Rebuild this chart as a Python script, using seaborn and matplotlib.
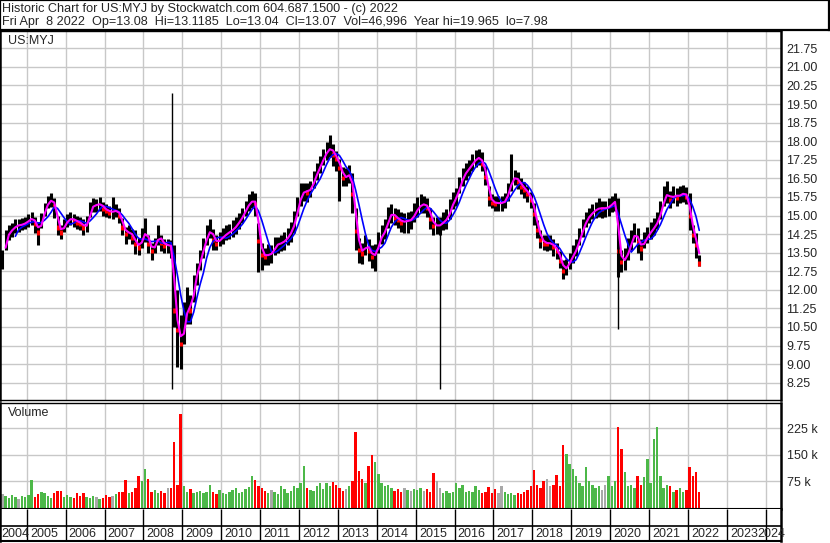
import numpy as np
import pandas as pd
import seaborn as sns
import matplotlib
matplotlib.use("Agg")
import matplotlib.pyplot as plt

# Monthly values, May 2004 .. Apr 2022 (one row per year)
close = [
    13.3, 14.1, 14.35, 14.45, 14.6, 14.6, 14.65, 14.7,                                # 2004
    14.82, 14.9, 14.7, 14.35, 14.82, 15.29, 15.56, 15.63, 15.42, 14.55, 14.35, 14.62,  # 2005
    14.82, 14.88, 14.82, 14.75, 14.68, 14.55, 14.62, 15.29, 15.42, 15.42, 15.49, 15.29,  # 2006
    15.22, 15.15, 15.15, 15.22, 15.02, 14.55, 14.28, 14.35, 14.15, 13.88, 13.74, 14.08,  # 2007
    14.42, 13.88, 13.61, 13.81, 14.21, 13.94, 13.81, 13.81, 13.74, 11.2, 10.4, 9.85,    # 2008
    10.6, 11.5, 11.2, 12.3, 12.8, 13.3, 13.8, 14.2, 14.45, 14.05, 13.9, 14.05,          # 2009
    14.15, 14.28, 14.35, 14.45, 14.6, 14.8, 15.0, 15.3, 15.5, 15.62, 15.5, 14.0,        # 2010
    13.45, 13.35, 13.45, 13.45, 13.8, 13.85, 13.9, 14.0, 14.15, 14.4, 14.75, 15.4,      # 2011
    15.85, 16.0, 15.96, 16.1, 16.45, 16.8, 17.05, 17.4, 17.6, 17.75, 17.5, 17.3,        # 2012
    16.95, 16.55, 16.55, 16.7, 15.9, 14.4, 13.65, 13.5, 13.85, 13.6, 13.35, 13.45,      # 2013
    13.95, 14.25, 14.4, 14.95, 15.1, 14.95, 14.85, 14.75, 14.75, 14.8, 14.82, 15.1,     # 2014
    15.3, 15.45, 15.45, 15.35, 14.9, 14.6, 14.6, 14.6, 14.8, 14.85, 15.25, 15.6,        # 2015
    15.8, 16.25, 16.6, 16.8, 16.95, 17.15, 17.3, 17.35, 17.1, 16.6, 15.75, 15.55,       # 2016
    15.5, 15.5, 15.5, 15.6, 16.0, 16.45, 16.55, 16.4, 16.2, 16.05, 15.9, 15.65,         # 2017
    15.1, 14.45, 14.05, 13.9, 13.88, 13.88, 13.75, 13.6, 13.2, 12.8, 12.93, 13.2,       # 2018
    13.45, 13.7, 14.15, 14.5, 14.85, 15.0, 15.15, 15.25, 15.3, 15.29, 15.3, 15.35,      # 2019
    15.5, 15.6, 13.6, 13.15, 13.25, 13.6, 14.0, 14.35, 13.95, 13.7, 14.0, 14.2,         # 2020
    14.4, 14.55, 14.8, 15.2, 15.75, 15.9, 15.65, 15.85, 15.75, 15.85, 15.9, 15.8,       # 2021
    15.0, 14.25, 13.85, 13.1,                                                           # 2022
]
high = [
    13.6, 14.4, 14.6, 14.7, 14.85, 14.85, 14.9, 14.95,
    15.05, 15.15, 14.95, 14.75, 15.1, 15.5, 15.8, 15.9, 15.7, 15.0, 14.6, 14.85,
    15.05, 15.15, 15.05, 15.0, 14.95, 14.85, 15.0, 15.55, 15.7, 15.65, 15.75, 15.55,
    15.45, 15.4, 15.75, 15.45, 15.3, 14.9, 14.55, 14.6, 14.45, 14.4, 14.1, 14.5,
    14.9, 14.2, 13.9, 14.1, 14.6, 14.2, 14.05, 14.05, 14.0, 13.8, 12.0, 11.0,
    11.5, 12.1, 11.8, 12.6, 13.1, 13.6, 14.1, 14.6, 14.85, 14.45, 14.2, 14.35,
    14.5, 14.6, 14.65, 14.8, 14.95, 15.1, 15.3, 15.6, 15.85, 16.0, 15.9, 14.7,
    13.9, 13.7, 13.85, 13.8, 14.15, 14.15, 14.2, 14.35, 14.5, 14.75, 15.2, 15.75,
    16.3, 16.3, 16.3, 16.4, 16.8, 17.1, 17.4, 17.7, 17.95, 18.25, 17.9, 17.6,
    17.3, 16.95, 16.9, 17.05, 16.7, 15.3, 14.1, 13.9, 14.2, 14.05, 13.8, 13.85,
    14.35, 14.6, 14.85, 15.35, 15.45, 15.3, 15.25, 15.15, 15.1, 15.15, 15.2, 15.5,
    15.75, 15.85, 15.8, 15.7, 15.3, 14.95, 14.95, 14.95, 15.15, 15.25, 15.65, 15.95,
    16.1, 16.55, 16.9, 17.1, 17.25, 17.5, 17.65, 17.7, 17.55, 17.0, 16.2, 15.85,
    15.8, 15.8, 15.8, 15.9, 16.3, 17.5, 16.85, 16.75, 16.5, 16.35, 16.2, 15.95,
    15.5, 14.8, 14.4, 14.2, 14.2, 14.2, 14.05, 13.9, 13.55, 13.2, 13.25, 13.5,
    13.8, 14.05, 14.5, 14.85, 15.15, 15.3, 15.45, 15.55, 15.7, 15.6, 15.6, 15.7,
    15.8, 15.9, 15.7, 13.6, 13.7, 14.1, 14.4, 14.7, 14.5, 14.05, 14.35, 14.55,
    14.75, 14.9, 15.15, 15.6, 16.2, 16.4, 16.0, 16.2, 16.1, 16.2, 16.25, 16.15,
    15.9, 14.6, 14.3, 13.4,
]
low = [
    12.85, 13.6, 14.0, 14.15, 14.3, 14.35, 14.4, 14.45,
    14.55, 14.6, 14.3, 13.8, 14.5, 15.0, 15.3, 15.35, 14.9, 14.2, 14.05, 14.35,
    14.55, 14.6, 14.55, 14.45, 14.4, 14.2, 14.35, 14.95, 15.15, 15.15, 15.2, 15.0,
    14.95, 14.9, 14.85, 14.95, 14.7, 14.2, 13.85, 14.05, 13.85, 13.45, 13.4, 13.7,
    13.95, 13.5, 13.2, 13.5, 13.8, 13.55, 13.5, 13.5, 13.3, 10.5, 8.9, 8.8,
    9.8, 10.6, 10.6, 11.5, 12.2, 12.8, 13.3, 13.8, 14.1, 13.6, 13.6, 13.75,
    13.85, 14.0, 14.05, 14.15, 14.25, 14.45, 14.7, 15.0, 15.2, 15.3, 15.0, 12.7,
    12.8, 13.0, 13.0, 13.1, 13.4, 13.5, 13.55, 13.6, 13.8, 13.95, 14.3, 15.0,
    15.4, 15.6, 15.55, 15.75, 16.1, 16.45, 16.7, 17.05, 17.25, 17.35, 17.0, 16.8,
    15.6, 16.2, 16.2, 16.3, 15.1, 13.6, 13.1, 13.05, 13.4, 13.15, 12.9, 12.75,
    13.5, 13.85, 14.05, 14.5, 14.7, 14.6, 14.5, 14.35, 14.3, 14.3, 14.45, 14.75,
    14.95, 15.1, 15.1, 14.95, 14.45, 14.2, 14.25, 14.2, 14.4, 14.45, 14.85, 15.25,
    15.4, 15.9, 16.2, 16.45, 16.6, 16.8, 16.95, 17.05, 16.8, 16.25, 15.4, 15.3,
    15.2, 15.2, 15.2, 15.3, 15.6, 16.0, 16.25, 16.05, 15.85, 15.7, 15.55, 15.3,
    14.6, 14.1, 13.7, 13.6, 13.55, 13.6, 13.35, 13.25, 12.9, 12.45, 12.6, 12.85,
    13.1, 13.35, 13.8, 14.15, 14.55, 14.7, 14.85, 14.9, 14.95, 14.9, 14.95, 15.0,
    15.15, 15.2, 12.5, 12.7, 12.8, 13.2, 13.6, 13.95, 13.5, 13.2, 13.7, 13.9,
    14.05, 14.2, 14.45, 14.85, 15.4, 15.5, 15.3, 15.5, 15.4, 15.5, 15.55, 15.45,
    14.4, 13.9, 13.3, 12.95,
]
volume_k = [
    38, 32, 28, 35, 30, 25, 33, 30,
    35, 77, 30, 38, 45, 40, 32, 28, 42, 48, 46, 30,
    36, 30, 28, 40, 34, 42, 30, 26, 32, 30, 25, 28,
    35, 30, 32, 38, 45, 45, 77, 40, 45, 55, 90, 75,
    108, 82, 45, 50, 40, 48, 42, 55, 55, 186, 65, 264,
    60, 45, 52, 40, 45, 48, 42, 45, 65, 45, 38, 50,
    42, 38, 45, 50, 55, 40, 45, 52, 58, 90, 79, 60,
    55, 48, 42, 50, 45, 38, 60, 52, 40, 48, 62, 55,
    70, 118, 55, 50, 48, 60, 70, 52, 68, 60, 72, 65,
    55, 48, 52, 60, 75, 215, 102, 80, 70, 117, 149, 130,
    95, 70, 62, 65, 55, 48, 52, 45, 55, 50, 48, 52,
    50, 55, 48, 52, 45, 98, 75, 55, 42, 48, 40, 45,
    70, 55, 65, 45, 48, 45, 60, 50, 42, 45, 58, 40,
    52, 40, 60, 45, 38, 42, 35, 40, 38, 45, 50, 62,
    107, 65, 55, 75, 80, 60, 65, 92, 60, 178, 152, 124,
    110, 90, 70, 60, 116, 75, 65, 55, 60, 50, 65, 90,
    60, 75, 229, 167, 100, 60, 65, 55, 90, 65, 85, 137,
    70, 195, 229, 90, 55, 65, 60, 45, 50, 55, 45, 50,
    114, 90, 101, 45,
]

# single-day bad ticks (year-fraction, high, low)
spike_t = [2008.73, 2015.62, 2020.19]
spike_hi = [19.965, 14.4, 14.8]
spike_lo = [7.98, 7.98, 10.4]

year_lines = list(range(2005, 2025))
year_labels = list(range(2004, 2025))
price_ticks = [8.25, 9.00, 9.75, 10.50, 11.25, 12.00, 12.75, 13.50, 14.25, 15.00,
               15.75, 16.50, 17.25, 18.00, 18.75, 19.50, 20.25, 21.00, 21.75]
vol_ticks = [75, 150, 225]

title1 = "Historic Chart for US:MYJ by Stockwatch.com 604.687.1500 - (c) 2022"
title2 = ("Fri Apr  8 2022  Op=13.08  Hi=13.1185  Lo=13.04  Cl=13.07  "
          "Vol=46,996  Year hi=19.965  lo=7.98")

months = pd.period_range("2004-05", "2022-04", freq="M")
df = pd.DataFrame({"t": months.year + (months.month - 0.5) / 12,
                   "close": close, "high": high, "low": low, "vol": volume_k})
df["ma_fast"] = df["close"].rolling(2).mean()
df["ma_slow"] = df["close"].rolling(5).mean()
chg = df["close"].diff().fillna(0)
df["vcolor"] = np.where(chg > 0.02, "#4cb848", np.where(chg < -0.02, "#ff0000", "#a8a8a8"))

sns.set_style("white")
plt.rcParams["font.family"] = ["Liberation Sans", "DejaVu Sans"]

W, H = 830, 543
XMIN, XMAX = 2004.313, 2024.393
GRID = "#c8c8c8"


def box(x0, y0, x1, y1):
    return [x0 / W, 1 - y1 / H, (x1 - x0) / W, (y1 - y0) / H]


fig = plt.figure(figsize=(W / 100, H / 100), dpi=100)

# header box
axt = fig.add_axes(box(0, 0, 829, 30))
axt.set_xticks([]); axt.set_yticks([])
for s in axt.spines.values():
    s.set_linewidth(1.6); s.set_color("black")
axt.text(2 / 829, 0.70, title1, transform=axt.transAxes, fontsize=9.1, va="center", ha="left")
axt.text(2 / 829, 0.28, title2, transform=axt.transAxes, fontsize=9.1, va="center", ha="left")

# price panel
ax = fig.add_axes(box(0, 31, 781, 400))
ax.set_xlim(XMIN, XMAX)
ax.set_ylim(7.552, 22.448)
ax.set_xticks(year_lines)
ax.set_yticks(price_ticks)
ax.set_yticklabels([f"{v:.2f}" for v in price_ticks])
ax.yaxis.tick_right()
ax.tick_params(axis="y", length=0, pad=4, labelsize=9)
ax.tick_params(axis="x", length=0, labelbottom=False)
ax.grid(True, color=GRID, lw=1)
ax.set_axisbelow(True)

ax.vlines(df["t"], df["low"], df["high"], color="black", lw=2.2)
down = df[chg < 0]
ax.vlines(down["t"], down["close"] - 0.12, down["close"] + 0.05, color="#ff0000", lw=2.2)
ax.vlines(spike_t, spike_lo, spike_hi, color="black", lw=1)
sns.lineplot(data=df, x="t", y="ma_slow", color="#0000ff", lw=1.2, ax=ax)
sns.lineplot(data=df, x="t", y="ma_fast", color="#ff00ff", lw=1.5, ax=ax)
ax.set_xlabel(""); ax.set_ylabel("")
ax.text(8 / 781, 1 - 10 / 369, "US:MYJ", transform=ax.transAxes, fontsize=9, va="center")

# volume panel
axv = fig.add_axes(box(0, 403, 781, 509))
axv.set_xlim(XMIN, XMAX)
axv.set_ylim(-4.2, 295.8)
axv.bar(df["t"], df["vol"], width=0.062, color=df["vcolor"], linewidth=0)
axv.set_xticks(year_lines)
axv.set_yticks(vol_ticks)
axv.set_yticklabels([f"{v} k" for v in vol_ticks])
axv.yaxis.tick_right()
axv.tick_params(axis="y", length=0, pad=4, labelsize=9)
axv.tick_params(axis="x", length=0, labelbottom=False)
axv.grid(True, color=GRID, lw=1)
axv.set_axisbelow(True)
axv.text(8 / 781, 1 - 10 / 106, "Volume", transform=axv.transAxes, fontsize=9, va="center")

# date strip
axd = fig.add_axes(box(0, 509, 781, 541))
axd.set_xlim(XMIN, XMAX)
axd.set_ylim(0, 1)
axd.set_xticks([]); axd.set_yticks([])
axd.vlines(year_lines, 0, 1, color="black", lw=1)
axd.axhline(0.47, color="black", lw=1.2)
for yr in year_labels:
    if yr < XMIN:
        axd.text(XMIN + 0.04, 0.22, str(yr), fontsize=9, ha="left", va="center")
    else:
        hi_x = min(yr + 1, XMAX)
        axd.text((yr + hi_x) / 2 - 0.06, 0.22, str(yr), fontsize=9, ha="center", va="center",
                 clip_on=False)

for a in (ax, axv, axd):
    for side, s in a.spines.items():
        s.set_color("black")
        s.set_linewidth(1.0)
    a.spines["right"].set_linewidth(1.8)
    a.spines["left"].set_linewidth(1.8)
axv.spines["bottom"].set_linewidth(1.5)
axd.spines["bottom"].set_linewidth(1.5)
axd.spines["top"].set_visible(False)

fig.savefig("out.png", dpi=100, facecolor="white")
plt.close(fig)
